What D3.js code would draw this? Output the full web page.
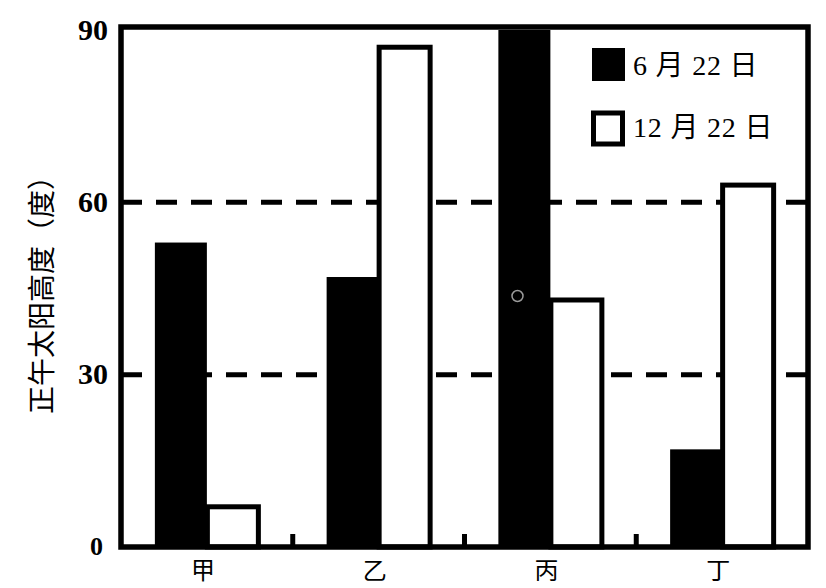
<!DOCTYPE html>
<html><head><meta charset="utf-8">
<script src="https://cdn.jsdelivr.net/npm/d3@7"></script>
<style>
html,body{margin:0;padding:0;background:#fff;}
svg{display:block;}
</style></head>
<body>
<svg id="chart" width="826" height="588"></svg>
<script>
const categories = ["甲", "乙", "丙", "丁"];
const seriesNames = ["6 月 22 日", "12 月 22 日"];
const june = [53, 47, 90, 17];
const december = [7, 87, 43, 63];
const yTicks = [0, 30, 60, 90];
const dashedLevels = [30, 60];
const yTitle = "正午太阳高度（度）";

const svg = d3.select("#chart");
const L = 121, R = 808, T = 27, B = 547;

const x = d3.scaleBand().domain(categories).range([L, R]).paddingInner(0).paddingOuter(0);
const y = d3.scaleLinear().domain([0, 90]).range([B, T + 3]);
const barW = 52;

const serifCJK = "'Liberation Serif','Times New Roman','Noto Sans CJK SC',serif";

// dashed reference lines
svg.selectAll("line.ref").data(dashedLevels).enter().append("line")
  .attr("class", "ref")
  .attr("x1", L).attr("x2", R)
  .attr("y1", d => y(d)).attr("y2", d => y(d))
  .attr("stroke", "#000").attr("stroke-width", 5)
  .attr("stroke-dasharray", "21,14");

const data = categories.map((c, i) => ({c, j: june[i], d: december[i]}));

// June bars (black)
svg.selectAll("rect.june").data(data).enter().append("rect")
  .attr("class", "june")
  .attr("x", d => x(d.c) + x.bandwidth() / 2 - barW)
  .attr("width", barW)
  .attr("y", d => y(d.j))
  .attr("height", d => y(0) - y(d.j))
  .attr("fill", "#000");

// December bars (white outlined)
svg.selectAll("rect.dec").data(data).enter().append("rect")
  .attr("class", "dec")
  .attr("x", d => x(d.c) + x.bandwidth() / 2 + 0.5)
  .attr("width", barW - 1)
  .attr("y", d => y(d.d))
  .attr("height", d => y(0) - y(d.d))
  .attr("fill", "#fff").attr("stroke", "#000").attr("stroke-width", 5);

// boundary ticks on the bottom axis
svg.selectAll("line.btick").data(categories.slice(1)).enter().append("line")
  .attr("class", "btick")
  .attr("x1", d => x(d)).attr("x2", d => x(d))
  .attr("y1", B).attr("y2", B - 13)
  .attr("stroke", "#000").attr("stroke-width", 5);

// frame
svg.append("rect")
  .attr("x", L).attr("y", T).attr("width", R - L).attr("height", B - T)
  .attr("fill", "none").attr("stroke", "#000").attr("stroke-width", 5.5);

// y axis labels
const yAxis = svg.append("g").attr("transform", `translate(${L},0)`)
  .call(d3.axisLeft(y).tickValues(yTicks).tickSize(0).tickPadding(13).tickFormat(d3.format("d")));
yAxis.select(".domain").remove();
yAxis.selectAll("text")
  .attr("font-family", "'Liberation Serif','Times New Roman',serif")
  .attr("font-weight", "bold")
  .attr("font-size", d => d === 0 ? 26 : 30)
  .attr("fill", "#000")
  .attr("dx", d => d === 0 ? -5 : 0)
  .attr("dy", d => d === 0 ? "0.3em" : "0.3em");

// category labels
svg.selectAll("text.cat").data(categories).enter().append("text")
  .attr("class", "cat")
  .attr("x", d => x(d) + x.bandwidth() / 2 - 4)
  .attr("y", 568)
  .attr("dominant-baseline", "central")
  .attr("text-anchor", "middle")
  .attr("font-family", "'Noto Sans CJK SC',sans-serif")
  .attr("font-size", 24)
  .attr("fill", "#000")
  .text(d => d);

// y title
svg.append("text")
  .attr("transform", "translate(40,288) rotate(-90)")
  .attr("text-anchor", "middle")
  .attr("dominant-baseline", "central")
  .attr("font-family", "'Noto Sans CJK SC',sans-serif")
  .attr("font-size", 28)
  .attr("fill", "#000")
  .text(yTitle);

// legend
const legend = svg.append("g");
const legendRows = [{name: seriesNames[0], y: 64}, {name: seriesNames[1], y: 128}];
legendRows.forEach((r, i) => {
  if (i === 0) {
    legend.append("rect").attr("x", 592).attr("y", r.y - 16).attr("width", 33).attr("height", 33).attr("fill", "#000");
  } else {
    legend.append("rect").attr("x", 593.5).attr("y", r.y - 15).attr("width", 29).attr("height", 31)
      .attr("fill", "#fff").attr("stroke", "#000").attr("stroke-width", 5);
  }
  legend.append("text")
    .attr("x", 633).attr("y", r.y + (i === 0 ? 11 : 9))
    .attr("font-family", serifCJK)
    .attr("font-size", 28)
    .attr("letter-spacing", 0.8)
    .attr("fill", "#000")
    .text(r.name);
});

// small grey marker circle
svg.append("circle").attr("cx", 517.5).attr("cy", 296).attr("r", 5.5)
  .attr("fill", "none").attr("stroke", "#9a9a9a").attr("stroke-width", 1.5);
</script>
</body></html>
